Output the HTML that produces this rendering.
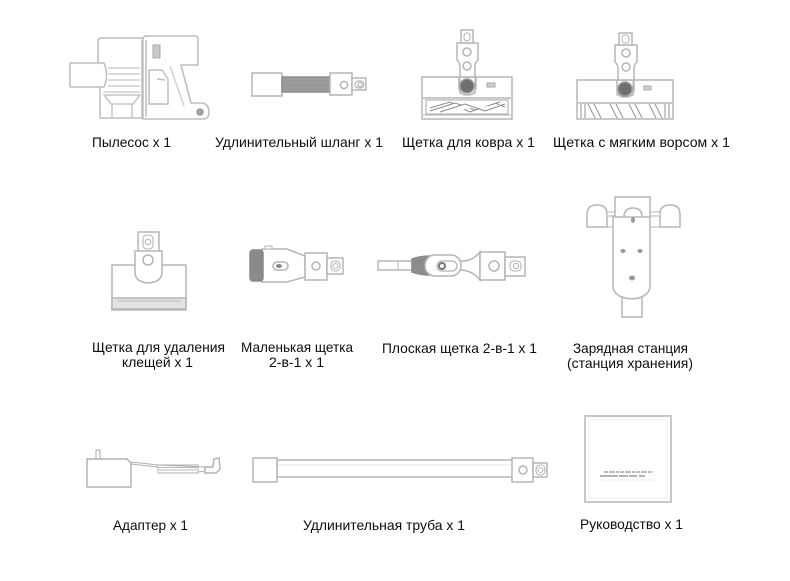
<!DOCTYPE html>
<html><head><meta charset="utf-8">
<style>
html,body{margin:0;padding:0;background:#fff;}
svg{display:block;}
text{font-family:"Liberation Sans","DejaVu Sans",sans-serif;font-size:14px;fill:#0d0d0d;}
</style></head>
<body>
<svg width="790" height="581" viewBox="0 0 790 581" xmlns="http://www.w3.org/2000/svg">
<rect width="790" height="581" fill="#fff"/>

<!-- ============ VACUUM ============ -->
<g stroke="#bdbdbd" stroke-width="1.5" fill="#fff" stroke-linejoin="round">
  <path d="M143,38 H101 Q98,38 98,41 V63 M100,87 V118 H143"/>
  <path d="M143,38 L145,36 H195 Q198,36 198,39 V65 H181 L191,103 H203 Q209,105 209,112 Q209,119 203,119 H143 Z"/>
  <line x1="142" y1="40" x2="142" y2="117"/>
  <line x1="146" y1="40" x2="146" y2="117"/>
  <path d="M149,70 H162 L168,79 V104 H149 Z" fill="none"/>
  <path d="M157,79 L165,80" fill="none"/>
  <path d="M170,66 L184,106" fill="none" stroke="#d0d0d0"/>
  <rect x="153" y="45" width="7" height="13" fill="#c9c9c9" stroke="#a9a9a9" stroke-width="1"/>
  <path d="M70,63 H104 Q109,75 104,87 H70 Z"/>
  <g stroke="#c6c6c6" stroke-width="1.2">
    <line x1="108" y1="68" x2="140" y2="68"/>
    <line x1="108" y1="74" x2="140" y2="74"/>
    <line x1="108" y1="80" x2="140" y2="80"/>
    <line x1="108" y1="86" x2="140" y2="86"/>
    <line x1="103" y1="92" x2="140" y2="92"/>
  </g>
  <path d="M104,95 H140 L133,104 H111 Z" fill="none" stroke="#c6c6c6"/>
  <line x1="112" y1="104" x2="112" y2="117" stroke="#c6c6c6"/>
  <line x1="132" y1="104" x2="132" y2="117" stroke="#c6c6c6"/>
  <circle cx="200" cy="112" r="3" fill="#a5a5a5" stroke="#999"/>
</g>

<!-- ============ HOSE ============ -->
<g stroke="#b5b5b5" stroke-width="1.5" fill="#fff">
  <rect x="252" y="73" width="30" height="23"/>
  <rect x="282" y="77" width="48" height="15" fill="#9c9c9c" stroke="#8d8d8d"/>
  <g stroke="#8a8a8a" stroke-width="0.6"><line x1="283" y1="81" x2="329" y2="81"/><line x1="283" y1="85" x2="329" y2="85"/><line x1="283" y1="89" x2="329" y2="89"/></g>
  <rect x="330" y="73" width="22" height="22"/>
  <circle cx="344" cy="85" r="3.6"/>
  <rect x="352" y="78" width="14" height="12"/>
  <rect x="355" y="81" width="9" height="7" rx="3.5" stroke-width="1.2"/>
  <circle cx="360" cy="84.5" r="2.2" stroke-width="1.1"/>
</g>

<!-- ============ CARPET BRUSH ============ -->
<g stroke="#b5b5b5" stroke-width="1.5" fill="#fff">
  <rect x="422" y="77" width="90" height="42"/>
  <line x1="423" y1="98" x2="511" y2="98"/>
  <rect x="426" y="100" width="82" height="14" stroke-width="1.2"/>
  <line x1="423" y1="115" x2="511" y2="115" stroke-width="1"/>
  <g stroke="#8a8a8a" stroke-width="1">
    <path d="M430,108 L450,102 L470,112 L495,103 L505,107"/>
    <path d="M430,111 L455,103 L475,110 L500,102"/>
    <path d="M440,112 L465,104 L485,111 L505,104"/>
  </g>
  <line x1="460" y1="78" x2="460" y2="94" stroke-width="1"/>
  <line x1="475" y1="78" x2="475" y2="94" stroke-width="1"/>
  <path d="M457,43 H478 V60 Q475,63 475,66 V77 H460 V66 Q460,63 457,60 Z"/>
  <path d="M459,77 V86 Q459,95 467,95 Q476,95 476,86 V77" fill="none"/>
  <circle cx="467" cy="52" r="4"/>
  <circle cx="467" cy="66" r="4"/>
  <rect x="461" y="30" width="12" height="13"/>
  <rect x="464" y="33" width="6" height="8" rx="3" stroke-width="1.1"/>
  <circle cx="467" cy="86" r="7" fill="#6f6f6f" stroke="#9a9a9a"/>
  <rect x="487" y="83" width="8" height="4" fill="#cfcfcf" stroke="#aaa" stroke-width="1"/>
</g>

<!-- ============ SOFT BRUSH ============ -->
<g stroke="#b5b5b5" stroke-width="1.5" fill="#fff">
  <rect x="577" y="80" width="96" height="39"/>
  <line x1="578" y1="103" x2="672" y2="103"/>
  <g stroke="#9a9a9a" stroke-width="1.1">
    <line x1="581" y1="104" x2="581" y2="118"/><line x1="585" y1="104" x2="585" y2="118"/>
    <line x1="665" y1="104" x2="665" y2="118"/><line x1="669" y1="104" x2="669" y2="118"/>
    <line x1="588" y1="104" x2="595" y2="118"/><line x1="594" y1="104" x2="601" y2="118"/>
    <line x1="610" y1="104" x2="617" y2="118"/><line x1="616" y1="104" x2="623" y2="118"/>
    <line x1="629" y1="104" x2="636" y2="118"/><line x1="635" y1="104" x2="642" y2="118"/>
    <line x1="649" y1="104" x2="656" y2="118"/><line x1="655" y1="104" x2="662" y2="118"/>
  </g>
  <line x1="617" y1="81" x2="617" y2="96" stroke-width="1"/>
  <line x1="633" y1="81" x2="633" y2="96" stroke-width="1"/>
  <path d="M615,45 H637 V62 Q634,65 634,68 V80 H618 V68 Q618,65 615,62 Z"/>
  <path d="M617,80 V89 Q617,97 625,97 Q634,97 634,89 V80" fill="none"/>
  <circle cx="626" cy="53" r="4"/>
  <circle cx="626" cy="67" r="4"/>
  <rect x="619" y="33" width="13" height="12"/>
  <rect x="622" y="35" width="7" height="8" rx="3" stroke-width="1.1"/>
  <circle cx="625" cy="89" r="7" fill="#6f6f6f" stroke="#9a9a9a"/>
  <rect x="644" y="86" width="7" height="4" fill="#cfcfcf" stroke="#aaa" stroke-width="1"/>
</g>

<!-- ============ TICK BRUSH ============ -->
<g stroke="#b5b5b5" stroke-width="1.5" fill="#fff">
  <rect x="112" y="265" width="74" height="45"/>
  <rect x="112" y="298" width="74" height="11" fill="#e2e2e2"/>
  <line x1="117" y1="301" x2="181" y2="301" stroke-width="1"/>
  <rect x="138" y="232" width="21" height="20"/>
  <rect x="143" y="235" width="10" height="14" rx="4" stroke-width="1.1"/>
  <circle cx="148" cy="242" r="2.8" stroke-width="1.1"/>
  <path d="M135,251 H162 V272 Q162,282 148,283 Q135,282 135,272 Z"/>
  <circle cx="148" cy="260" r="5"/>
</g>

<!-- ============ SMALL 2-IN-1 BRUSH ============ -->
<g stroke="#b5b5b5" stroke-width="1.5" fill="#fff">
  <path d="M262,249 H287 L305,256 V277 L287,282 H262 Z"/>
  <rect x="265" y="246" width="7" height="3" stroke-width="1"/>
  <rect x="250" y="250" width="13" height="31" rx="3" fill="#8a8a8a" stroke="#8a8a8a"/>
  <rect x="273" y="262" width="15" height="8" rx="4"/>
  <ellipse cx="279" cy="266" rx="3" ry="2" fill="#888" stroke="none"/>
  <rect x="305" y="253" width="22" height="27"/>
  <circle cx="316" cy="266" r="4"/>
  <rect x="327" y="258" width="16" height="16"/>
  <rect x="331" y="261" width="9" height="10" rx="4" stroke-width="1.1"/>
  <circle cx="335.5" cy="266" r="2.5" stroke-width="1"/>
</g>

<!-- ============ FLAT BRUSH ============ -->
<g stroke="#b5b5b5" stroke-width="1.5" fill="#fff">
  <rect x="378" y="261" width="34" height="9"/>
  <line x1="398" y1="261" x2="398" y2="270" stroke-width="1"/>
  <path d="M460,261 Q472,262 480,252 V280 Q472,270 460,270 Z"/>
  <path d="M412,259 Q420,256 430,256 V275 Q420,275 412,272 Z" fill="#8c8c8c" stroke="#8c8c8c"/>
  <rect x="425" y="255" width="36" height="21" rx="10"/>
  <rect x="437" y="261" width="20" height="10" rx="5" stroke-width="1.2"/>
  <circle cx="442" cy="266" r="3" fill="#fff" stroke="#777" stroke-width="2"/>
  <rect x="480" y="252" width="25" height="28"/>
  <circle cx="494" cy="266" r="5"/>
  <rect x="505" y="257" width="20" height="19"/>
  <rect x="510" y="261" width="11" height="10" rx="4" stroke-width="1.1"/>
  <circle cx="516" cy="266" r="2.7" stroke-width="1"/>
</g>

<!-- ============ CHARGING STATION ============ -->
<g stroke="#b5b5b5" stroke-width="1.5" fill="#fff">
  <rect x="622" y="296" width="20" height="21"/>
  <path d="M587,227 V214 Q587,205 597,205 Q607,205 607,214 V227 Z"/>
  <path d="M660,227 V214 Q660,205 670,205 Q680,205 680,214 V227 Z"/>
  <rect x="607" y="212" width="8" height="4" stroke-width="1"/>
  <rect x="650" y="212" width="10" height="4" stroke-width="1"/>
  <line x1="607" y1="227" x2="613" y2="227" stroke-width="1"/>
  <line x1="650" y1="227" x2="660" y2="227" stroke-width="1"/>
  <path d="M613,216 V286 C613,303 650,303 650,286 V216 Z"/>
  <rect x="615" y="197" width="35" height="20"/>
  <path d="M624,217 Q624,208 633,208 Q642,208 642,217" fill="none"/>
  <ellipse cx="633" cy="220" rx="2" ry="3" fill="#9a9a9a" stroke="none"/>
  <ellipse cx="623" cy="251" rx="2.6" ry="2" fill="#9a9a9a" stroke="none"/>
  <ellipse cx="640" cy="251" rx="2.6" ry="2" fill="#9a9a9a" stroke="none"/>
  <ellipse cx="632" cy="278" rx="3" ry="2.5" fill="#9a9a9a" stroke="none"/>
</g>

<!-- ============ ADAPTER ============ -->
<g stroke="#b0b0b0" stroke-width="1.4" fill="#fff">
  <rect x="96" y="450" width="4" height="10" stroke-width="1.1"/>
  <path d="M87,459 H127 L131,463 V487 H87 Z"/>
  <path d="M131,462 L158,465 M131,464 L158,467" fill="none" stroke-width="0.9"/>
  <rect x="158" y="465" width="40" height="8" stroke-width="1"/>
  <g stroke="#a0a0a0" stroke-width="0.7"><line x1="159" y1="467.5" x2="197" y2="467.5"/><line x1="159" y1="470" x2="197" y2="470"/></g>
  <path d="M158,465 L205,467 M198,472 L206,471" fill="none" stroke-width="0.9"/>
  <path d="M205,467 H213 L214,459 L219,458 L220,469 L216,473 H205 Z"/>
</g>

<!-- ============ TUBE ============ -->
<g stroke="#b5b5b5" stroke-width="1.5" fill="#fff">
  <rect x="277" y="460" width="236" height="17"/>
  <line x1="278" y1="465" x2="512" y2="465" stroke="#e4e4e4" stroke-width="1"/>
  <rect x="253" y="458" width="24" height="24"/>
  <rect x="512" y="458" width="21" height="24"/>
  <circle cx="523" cy="470" r="4"/>
  <rect x="533" y="463" width="14" height="14"/>
  <rect x="536" y="465" width="9" height="10" rx="4" stroke-width="1.1"/>
  <circle cx="540.5" cy="470" r="2.5" stroke-width="1"/>
</g>

<!-- ============ MANUAL ============ -->
<g fill="none">
  <rect x="585" y="416" width="86" height="86" stroke="#c6c6c6" stroke-width="2"/>
  <rect x="589" y="420" width="78" height="78" stroke="#ececec" stroke-width="1"/>
  <line x1="604" y1="472" x2="653" y2="472" stroke="#777" stroke-width="1" stroke-dasharray="4,1,6,1,3,1"/>
  <line x1="600" y1="476" x2="658" y2="476" stroke="#666" stroke-width="1.1" stroke-dasharray="18,1,9,1,8,2,6"/>
  <line x1="600" y1="480" x2="658" y2="480" stroke="#eee" stroke-width="1"/>
</g>

<!-- ============ LABELS ============ -->
<text x="92" y="147" textLength="79" lengthAdjust="spacingAndGlyphs">Пылесос x 1</text>
<text x="215" y="147" textLength="168" lengthAdjust="spacingAndGlyphs">Удлинительный шланг x 1</text>
<text x="402" y="147" textLength="133" lengthAdjust="spacingAndGlyphs">Щетка для ковра x 1</text>
<text x="553" y="147" textLength="177" lengthAdjust="spacingAndGlyphs">Щетка с мягким ворсом x 1</text>

<text x="92" y="352" textLength="133" lengthAdjust="spacingAndGlyphs">Щетка для удаления</text>
<text x="122" y="367" textLength="71" lengthAdjust="spacingAndGlyphs">клещей x 1</text>
<text x="241" y="352" textLength="112" lengthAdjust="spacingAndGlyphs">Маленькая щетка</text>
<text x="269" y="367" textLength="55" lengthAdjust="spacingAndGlyphs">2-в-1 x 1</text>
<text x="382" y="353" textLength="155" lengthAdjust="spacingAndGlyphs">Плоская щетка 2-в-1 x 1</text>
<text x="573" y="353" textLength="115" lengthAdjust="spacingAndGlyphs">Зарядная станция</text>
<text x="567" y="368" textLength="126" lengthAdjust="spacingAndGlyphs">(станция хранения)</text>

<text x="113" y="530" textLength="75" lengthAdjust="spacingAndGlyphs">Адаптер x 1</text>
<text x="303" y="530" textLength="162" lengthAdjust="spacingAndGlyphs">Удлинительная труба x 1</text>
<text x="580" y="529" textLength="103" lengthAdjust="spacingAndGlyphs">Руководство x 1</text>
</svg>
</body></html>
